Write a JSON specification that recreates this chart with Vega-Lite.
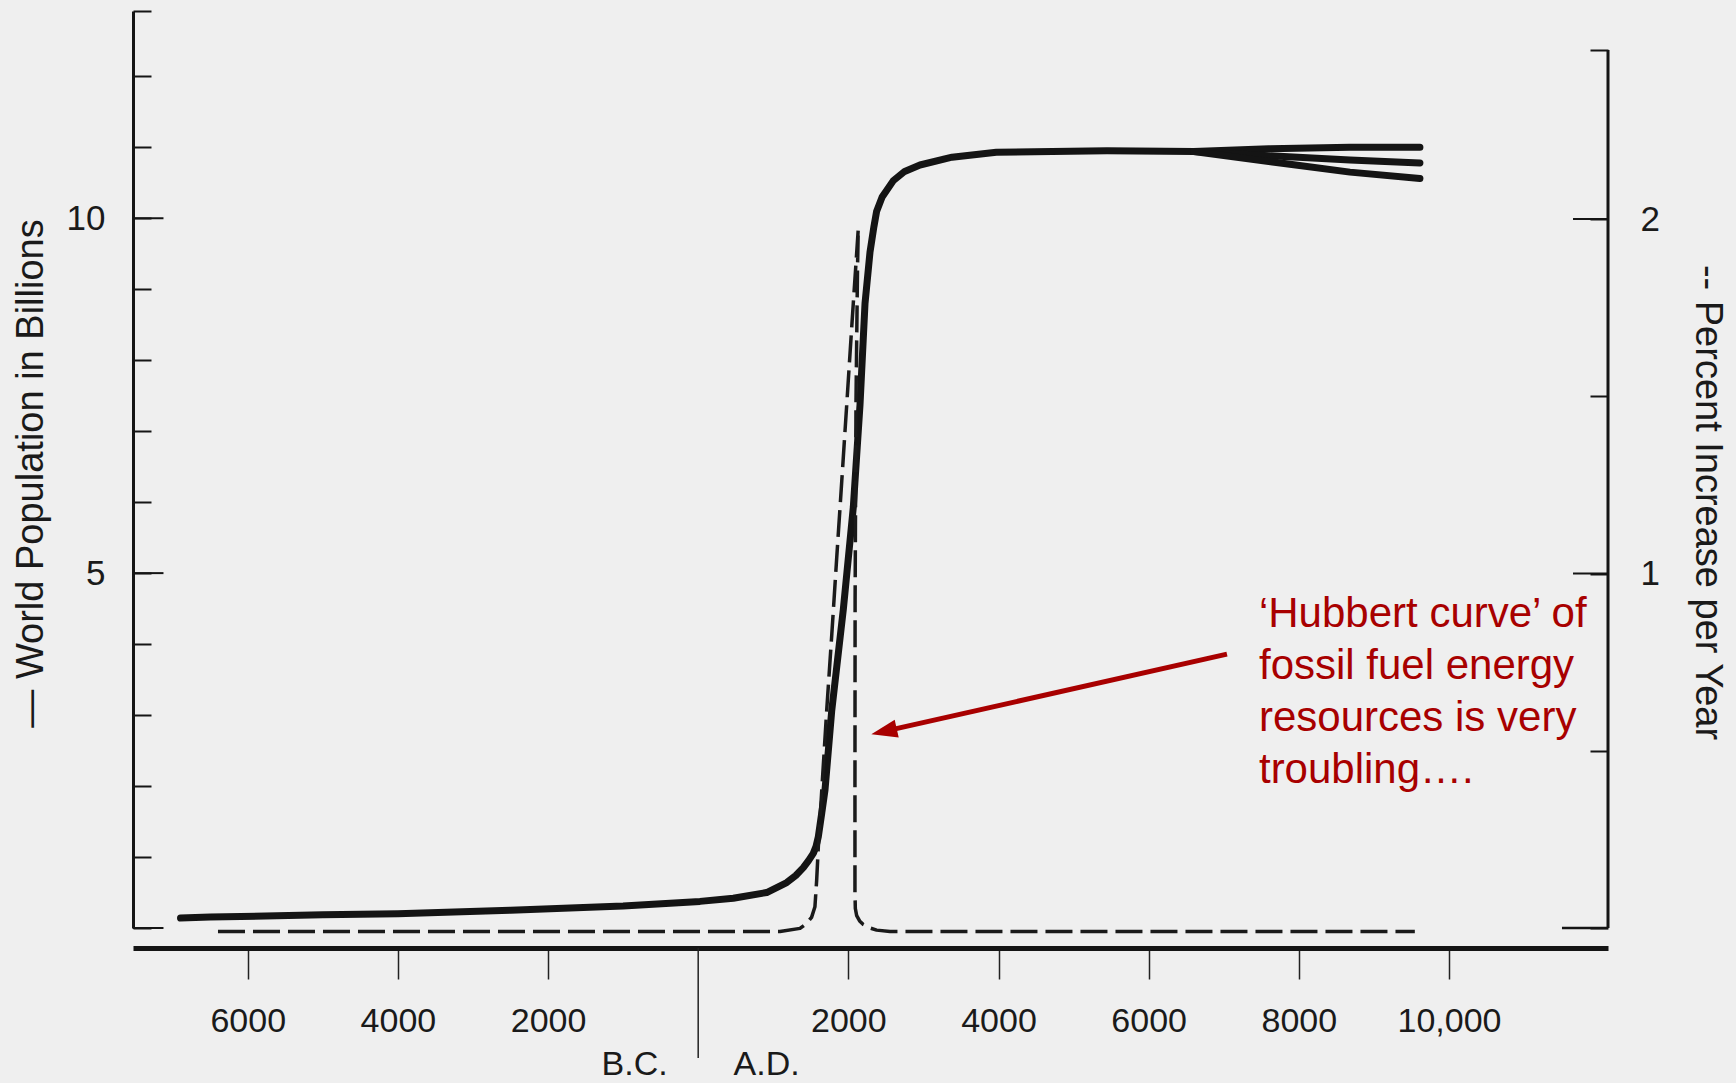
{
  "$schema": "https://vega.github.io/schema/vega-lite/v6.json",
  "width": 1475,
  "height": 917,
  "autosize": {"type": "none"},
  "padding": {"left": 133, "top": 11, "right": 128, "bottom": 155},
  "background": "#efefef",
  "config": {"view": {"stroke": null}, "font": "Liberation Sans"},
  "datasets": {
    "pop": [
      {"s": "m", "year": -6895, "pop": 0.14},
      {"s": "m", "year": -6500, "pop": 0.155},
      {"s": "m", "year": -5000, "pop": 0.185},
      {"s": "m", "year": -4000, "pop": 0.2},
      {"s": "m", "year": -2500, "pop": 0.25},
      {"s": "m", "year": -1000, "pop": 0.31},
      {"s": "m", "year": 24, "pop": 0.375},
      {"s": "m", "year": 467, "pop": 0.42},
      {"s": "m", "year": 912, "pop": 0.5},
      {"s": "m", "year": 1179, "pop": 0.64},
      {"s": "m", "year": 1300, "pop": 0.74},
      {"s": "m", "year": 1400, "pop": 0.85},
      {"s": "m", "year": 1470, "pop": 0.95},
      {"s": "m", "year": 1533, "pop": 1.052},
      {"s": "m", "year": 1570, "pop": 1.15},
      {"s": "m", "year": 1600, "pop": 1.286},
      {"s": "m", "year": 1645, "pop": 1.615},
      {"s": "m", "year": 1689, "pop": 1.944},
      {"s": "m", "year": 1778, "pop": 3.056},
      {"s": "m", "year": 1933, "pop": 4.49},
      {"s": "m", "year": 2066, "pop": 5.93},
      {"s": "m", "year": 2155, "pop": 7.37},
      {"s": "m", "year": 2222, "pop": 8.8},
      {"s": "m", "year": 2288, "pop": 9.52},
      {"s": "m", "year": 2340, "pop": 9.88},
      {"s": "m", "year": 2377, "pop": 10.1},
      {"s": "m", "year": 2450, "pop": 10.3},
      {"s": "m", "year": 2599, "pop": 10.53},
      {"s": "m", "year": 2750, "pop": 10.66},
      {"s": "m", "year": 2954, "pop": 10.75},
      {"s": "m", "year": 3381, "pop": 10.86},
      {"s": "m", "year": 3971, "pop": 10.93},
      {"s": "m", "year": 5445, "pop": 10.95},
      {"s": "m", "year": 6600, "pop": 10.94},
      {"s": "a", "year": 6600, "pop": 10.94},
      {"s": "a", "year": 7600, "pop": 10.98},
      {"s": "a", "year": 8681, "pop": 11.0},
      {"s": "a", "year": 9613, "pop": 11.0},
      {"s": "b", "year": 6600, "pop": 10.94},
      {"s": "b", "year": 7600, "pop": 10.88},
      {"s": "b", "year": 8681, "pop": 10.82},
      {"s": "b", "year": 9613, "pop": 10.78},
      {"s": "c", "year": 6600, "pop": 10.94},
      {"s": "c", "year": 7600, "pop": 10.8},
      {"s": "c", "year": 8681, "pop": 10.65},
      {"s": "c", "year": 9613, "pop": 10.56}
    ],
    "pct": [
      {"i": 0, "year": -6396, "pct": -0.01},
      {"i": 1, "year": 1089, "pct": -0.01},
      {"i": 2, "year": 1356, "pct": -0.001},
      {"i": 3, "year": 1445, "pct": 0.013},
      {"i": 4, "year": 1510, "pct": 0.03},
      {"i": 5, "year": 1555, "pct": 0.06},
      {"i": 6, "year": 1578, "pct": 0.135},
      {"i": 7, "year": 1600, "pct": 0.229},
      {"i": 8, "year": 1655, "pct": 0.42},
      {"i": 9, "year": 1711, "pct": 0.612},
      {"i": 10, "year": 1780, "pct": 0.83},
      {"i": 11, "year": 1845, "pct": 1.044},
      {"i": 12, "year": 1912, "pct": 1.26},
      {"i": 13, "year": 1978, "pct": 1.475},
      {"i": 14, "year": 2022, "pct": 1.62},
      {"i": 15, "year": 2066, "pct": 1.763},
      {"i": 16, "year": 2100, "pct": 1.87},
      {"i": 17, "year": 2132, "pct": 1.972},
      {"i": 18, "year": 2122, "pct": 1.86},
      {"i": 19, "year": 2102, "pct": 1.49},
      {"i": 20, "year": 2090, "pct": 0.925},
      {"i": 21, "year": 2088, "pct": 0.403},
      {"i": 22, "year": 2088, "pct": 0.1},
      {"i": 23, "year": 2093, "pct": 0.055},
      {"i": 24, "year": 2111, "pct": 0.035},
      {"i": 25, "year": 2150, "pct": 0.02},
      {"i": 26, "year": 2199, "pct": 0.01},
      {"i": 27, "year": 2290, "pct": 0.0},
      {"i": 28, "year": 2377, "pct": -0.006},
      {"i": 29, "year": 2555, "pct": -0.01},
      {"i": 30, "year": 9545, "pct": -0.01}
    ],
    "one": [{"k": 1}],
    "leftMajor": [{"v": 0}, {"v": 5}, {"v": 10}],
    "rightMajor": [{"v": 1}, {"v": 2}]
  },
  "layer": [
    {
      "layer": [
        {
          "data": {"name": "pop"},
          "mark": {"type": "line", "stroke": "#141414", "strokeWidth": 7, "strokeCap": "round", "strokeJoin": "round"},
          "encoding": {
            "x": {
              "field": "year", "type": "quantitative",
              "scale": {"domain": [-7528, 12118], "nice": false, "zero": false},
              "axis": {
                "orient": "bottom",
                "values": [-6000, -4000, -2000, 2000, 4000, 6000, 8000, 10000],
                "offset": 20,
                "title": null,
                "grid": false,
                "domainWidth": 5,
                "domainColor": "#151515",
                "tickColor": "#222222",
                "tickWidth": 1.5,
                "tickSize": 31,
                "labelExpr": "datum.value == 10000 ? '10,000' : '' + abs(datum.value)",
                "labelFont": "Liberation Sans",
                "labelFontSize": 34,
                "labelColor": "#1a1a1a",
                "labelPadding": 25,
                "labelFlush": false,
                "labelOverlap": false
              }
            },
            "y": {
              "field": "pop", "type": "quantitative",
              "scale": {"domain": [0, 12.92], "nice": false, "zero": false},
              "axis": {
                "orient": "left",
                "values": [0, 1, 2, 3, 4, 5, 6, 7, 8, 9, 10, 11, 12, 12.92],
                "grid": false,
                "domainWidth": 3,
                "domainColor": "#151515",
                "tickColor": "#151515",
                "tickWidth": 2,
                "tickSize": -18,
                "labelExpr": "datum.value == 5 ? '5' : (datum.value == 10 ? '10' : '')",
                "labelFont": "Liberation Sans",
                "labelFontSize": 35,
                "labelColor": "#1a1a1a",
                "labelPadding": 46,
                "labelAlign": "right",
                "labelBaseline": "middle",
                "labelOverlap": false,
                "title": "— World Population in Billions",
                "titleFont": "Liberation Sans",
                "titleFontSize": 38,
                "titleFontWeight": "normal",
                "titleColor": "#1a1a1a",
                "titleAngle": 270,
                "titleX": -102,
                "titleY": 462,
                "titleAlign": "center",
                "titleBaseline": "middle"
              }
            },
            "detail": {"field": "s"}
          }
        },
        {
          "data": {"name": "leftMajor"},
          "mark": {"type": "rule", "stroke": "#151515", "strokeWidth": 2, "strokeCap": "butt"},
          "encoding": {
            "x": {"datum": -7528, "type": "quantitative"},
            "x2": {"datum": -7122},
            "y": {"field": "v", "type": "quantitative"}
          }
        },
        {
          "data": {"name": "one"},
          "mark": {"type": "rule", "stroke": "#222222", "strokeWidth": 1.5, "strokeCap": "butt"},
          "encoding": {
            "x": {"datum": 0, "type": "quantitative"},
            "y": {"datum": -0.282, "type": "quantitative"},
            "y2": {"datum": -1.831}
          }
        },
        {
          "data": {"name": "one"},
          "mark": {"type": "rule", "stroke": "#a80000", "strokeWidth": 5, "strokeCap": "butt"},
          "encoding": {
            "x": {"datum": 7043, "type": "quantitative"},
            "y": {"datum": 3.859, "type": "quantitative"},
            "x2": {"datum": 2475},
            "y2": {"datum": 2.77}
          }
        },
        {
          "data": {"name": "one"},
          "mark": {"type": "point", "shape": "M0,-1L0.7,1L-0.7,1Z", "filled": true, "fill": "#a80000", "strokeWidth": 0, "opacity": 1, "size": 676, "angle": 257.3},
          "encoding": {
            "x": {"datum": 2475, "type": "quantitative"},
            "y": {"datum": 2.77, "type": "quantitative"}
          }
        },
        {
          "data": {"name": "one"},
          "mark": {"type": "text", "align": "left", "baseline": "alphabetic", "font": "Liberation Sans", "fontSize": 42, "lineHeight": 52, "fill": "#a80000"},
          "encoding": {
            "x": {"datum": 7469, "type": "quantitative"},
            "y": {"datum": 4.239, "type": "quantitative"},
            "text": {"value": ["‘Hubbert curve’ of", "fossil fuel energy", "resources is very", "troubling…."]}
          }
        },
        {
          "data": {"name": "one"},
          "mark": {"type": "text", "align": "center", "baseline": "alphabetic", "font": "Liberation Sans", "fontSize": 34, "fill": "#1a1a1a"},
          "encoding": {
            "x": {"datum": -846, "type": "quantitative"},
            "y": {"datum": -2.07, "type": "quantitative"},
            "text": {"value": "B.C."}
          }
        },
        {
          "data": {"name": "one"},
          "mark": {"type": "text", "align": "center", "baseline": "alphabetic", "font": "Liberation Sans", "fontSize": 34, "fill": "#1a1a1a"},
          "encoding": {
            "x": {"datum": 912, "type": "quantitative"},
            "y": {"datum": -2.07, "type": "quantitative"},
            "text": {"value": "A.D."}
          }
        }
      ]
    },
    {
      "layer": [
        {
          "data": {"name": "pct"},
          "mark": {"type": "line", "stroke": "#1a1a1a", "strokeWidth": 3.5, "strokeDash": [27, 8], "strokeCap": "butt", "strokeJoin": "round"},
          "encoding": {
            "x": {"field": "year", "type": "quantitative", "scale": {"domain": [-7528, 12118], "nice": false, "zero": false}},
            "y": {
              "field": "pct", "type": "quantitative",
              "scale": {"domain": [0, 2.587], "nice": false, "zero": false},
              "axis": {
                "orient": "right",
                "values": [0, 0.5, 1, 1.5, 2, 2.477],
                "grid": false,
                "domain": false,
                "tickColor": "#151515",
                "tickWidth": 2,
                "tickSize": -18,
                "labelExpr": "datum.value == 1 ? '1' : (datum.value == 2 ? '2' : '')",
                "labelFont": "Liberation Sans",
                "labelFontSize": 35,
                "labelColor": "#1a1a1a",
                "labelPadding": 50,
                "labelAlign": "left",
                "labelBaseline": "middle",
                "labelOverlap": false,
                "title": "-- Percent Increase per Year",
                "titleFont": "Liberation Sans",
                "titleFontSize": 38,
                "titleFontWeight": "normal",
                "titleColor": "#1a1a1a",
                "titleAngle": 90,
                "titleX": 98,
                "titleY": 491,
                "titleAlign": "center",
                "titleBaseline": "middle"
              }
            },
            "order": {"field": "i", "type": "quantitative"}
          }
        },
        {
          "data": {"name": "one"},
          "mark": {"type": "rule", "stroke": "#151515", "strokeWidth": 3},
          "encoding": {
            "x": {"datum": 12118, "type": "quantitative"},
            "y": {"datum": 0, "type": "quantitative"},
            "y2": {"datum": 2.477}
          }
        },
        {
          "data": {"name": "rightMajor"},
          "mark": {"type": "rule", "stroke": "#151515", "strokeWidth": 2, "strokeCap": "butt"},
          "encoding": {
            "x": {"datum": 11652, "type": "quantitative"},
            "x2": {"datum": 12118},
            "y": {"field": "v", "type": "quantitative"}
          }
        },
        {
          "data": {"name": "one"},
          "mark": {"type": "rule", "stroke": "#151515", "strokeWidth": 2.5, "strokeCap": "butt"},
          "encoding": {
            "x": {"datum": 11505, "type": "quantitative"},
            "x2": {"datum": 12118},
            "y": {"datum": 0, "type": "quantitative"}
          }
        }
      ]
    }
  ],
  "resolve": {"scale": {"y": "independent"}}
}
